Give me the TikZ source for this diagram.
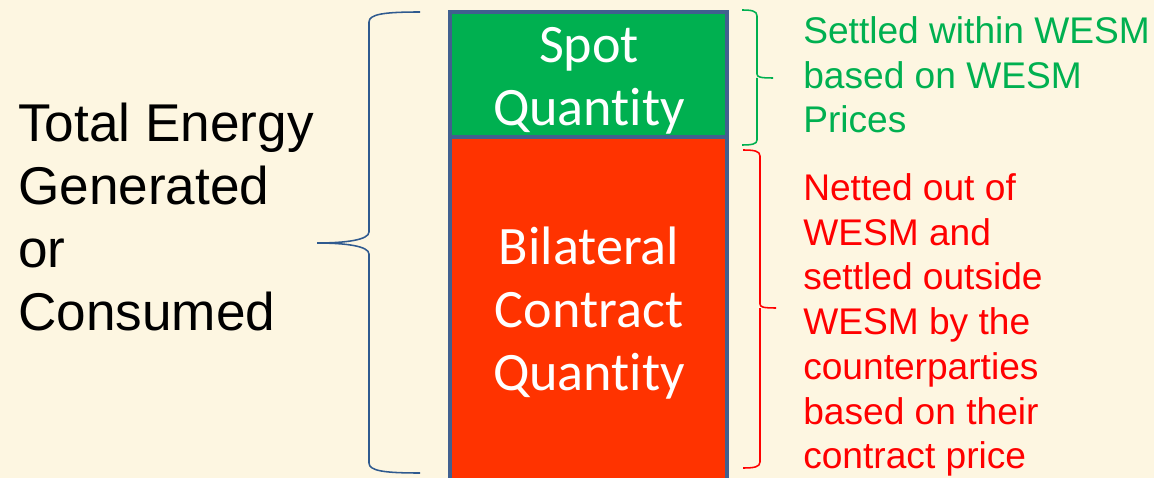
\documentclass[tikz,border=0pt]{standalone}
\usepackage{fontspec}
\setmainfont{Liberation Sans}
\newfontfamily\boxfont[Ligatures=NoCommon]{Carlito}
\definecolor{spotgreen}{HTML}{00B050}
\definecolor{bilatred}{HTML}{FF3300}
\definecolor{frameblue}{HTML}{41608F}
\definecolor{braceblue}{HTML}{2F5A8F}
\definecolor{textred}{HTML}{FF0000}
\definecolor{paper}{HTML}{FDF6E1}
\begin{document}
\begin{tikzpicture}[x=0.025cm,y=-0.025cm,
    boxtext/.style={text=white,inner sep=0,align=center,font=\boxfont\fontsize{38.5}{45}\selectfont},
    sidetext/.style={inner sep=0,align=left,anchor=west,font=\fontsize{26.4}{31.8}\selectfont},
    bigtext/.style={inner sep=0,align=left,anchor=west,font=\fontsize{37.8}{45}\selectfont}]
      \fill[paper] (0,0) rectangle (1154,478);
      \useasboundingbox (0,0) rectangle (1154,478);
      % the two quantities
      \filldraw[fill=spotgreen,draw=frameblue,line width=3pt] (450,12) rectangle (727,137);
      \filldraw[fill=bilatred,draw=frameblue,line width=3pt] (450,137) rectangle (727,484);
      \node[boxtext] (spot) at (589,81) {Spot\\Quantity};
      \node[boxtext] (bilat) at (589,313) {Bilateral\\Contract\\Quantity};
      % left side
      \node[bigtext] (total) at (18,217) {Total Energy\\Generated\\or\\Consumed};
      \draw[braceblue,line width=1.1pt] (420,12) .. controls (385,12) and (369,14) .. (369,22)
        -- (369,232) .. controls (369,240) and (345,243) .. (317,243)
        .. controls (345,243) and (369,246) .. (369,254)
        -- (369,463) .. controls (369,471) and (385,473) .. (420,473);
      % right side
      \node[sidetext,text=spotgreen] (within) at (803,75) {Settled within WESM\\based on WESM\\Prices};
      \node[sidetext,text=textred] (outside) at (803,325) {Netted out of\\WESM and\\settled outside\\WESM by the\\counterparties\\based on their\\contract price};
      \draw[spotgreen,line width=1.1pt] (742,10) .. controls (752,10) and (757,11) .. (757,16)
        -- (757,74) .. controls (757,77) and (760,78) .. (773,78)
        (757,78) .. controls (757,79) and (757,81) .. (757,84)
        -- (757,140) .. controls (757,144) and (752,145) .. (742,145);
      \draw[textred,line width=1.1pt] (743,150) .. controls (754,150) and (760,151) .. (760,156)
        -- (760,304) .. controls (760,307) and (763,308) .. (776,308)
        (760,308) .. controls (760,309) and (760,311) .. (760,314)
        -- (760,462) .. controls (760,467) and (754,468) .. (743,468);
    \end{tikzpicture}
\end{document}
